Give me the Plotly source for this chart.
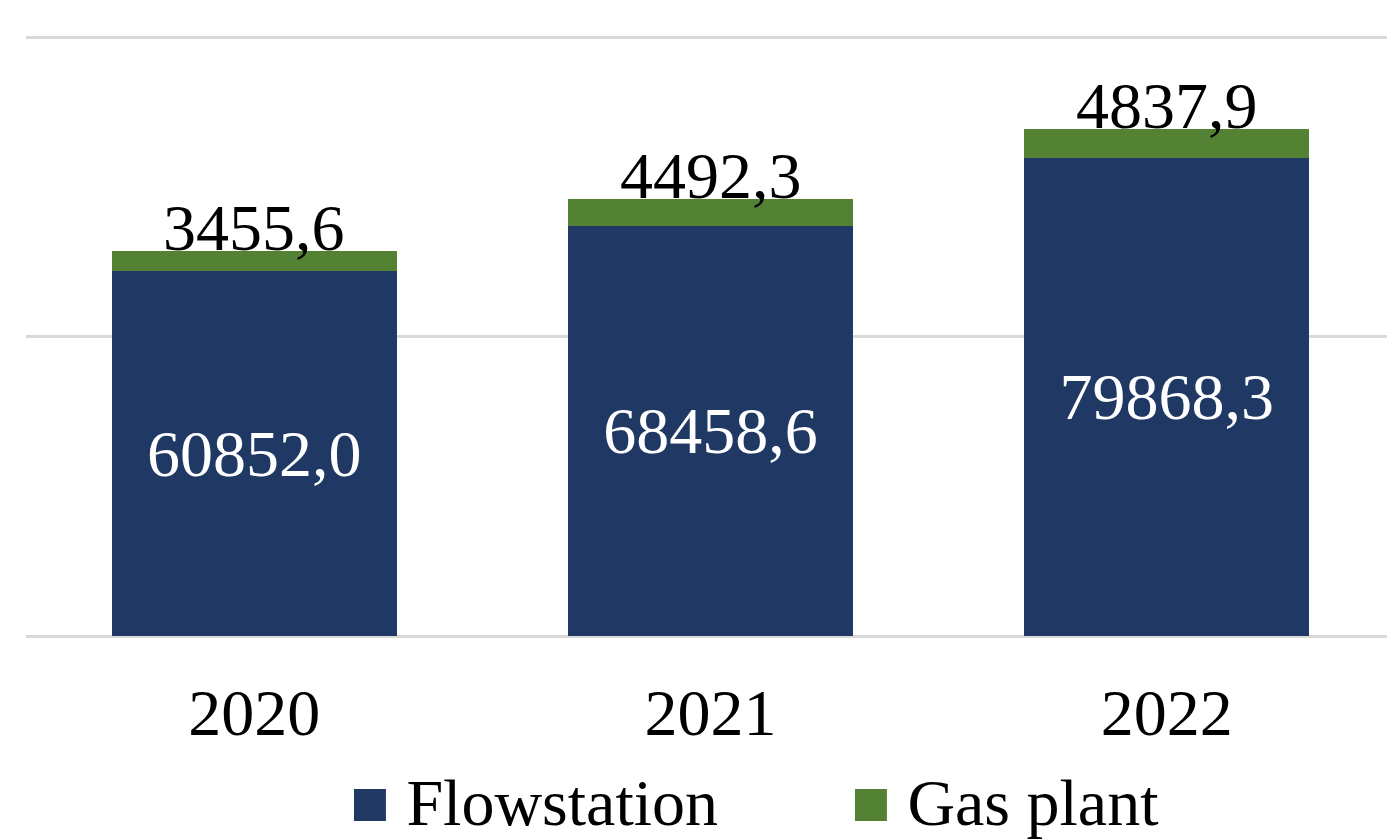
import plotly.graph_objects as go

years = ["2020", "2021", "2022"]
flowstation = [60852.0, 68458.6, 79868.3]
gas_plant = [3455.6, 4492.3, 4837.9]
series_names = ["Flowstation", "Gas plant"]
series_colors = ["#1F3864", "#548235"]

FONT = "Liberation Serif"
FS = 66
# page has an 8px body margin; figure sized to fill the window
W, H = 1387, 832
ML, MR, MT, MB = 18, 0, 26, 204

fig = go.Figure()
fig.add_trace(go.Bar(
    x=years, y=flowstation, name=series_names[0],
    marker=dict(color=series_colors[0], line=dict(width=0)),
    texttemplate="%{y:.1f}", textposition="inside", insidetextanchor="middle",
    textangle=0, textfont=dict(family=FONT, size=FS, color="white"),
    showlegend=False,
))
fig.add_trace(go.Bar(
    x=years, y=gas_plant, name=series_names[1],
    marker=dict(color=series_colors[1], line=dict(width=0)),
    showlegend=False,
))

# gas plant labels sitting on top of each stack (x = category index)
for i, (f, g) in enumerate(zip(flowstation, gas_plant)):
    fig.add_annotation(
        x=i, y=f + g, xref="x", yref="y",
        text=f"{g:.1f}".replace(".", ","), showarrow=False,
        xanchor="center", yanchor="bottom", yshift=-15,
        font=dict(family=FONT, size=FS, color="black"),
    )

# legend drawn as text entries
plot_w = W - ML - MR
plot_h = H - MT - MB
legend_px = [340, 841]  # in figure pixels
for name, color, px in zip(series_names, series_colors, legend_px):
    fig.add_annotation(
        xref="paper", yref="paper",
        x=(px - ML) / plot_w, y=(H - MB - 794) / plot_h,
        xanchor="left", yanchor="middle", showarrow=False,
        text=f"<span style='color:{color}'>\u25A0</span> {name}",
        font=dict(family=FONT, size=FS, color="black"),
    )

fig.update_layout(
    width=W, height=H,
    margin=dict(l=ML, r=MR, t=MT, b=MB, pad=0, autoexpand=False),
    barmode="stack", bargap=0.376,
    separators=",.",
    plot_bgcolor="white", paper_bgcolor="white",
    font=dict(family=FONT, color="black"),
    xaxis=dict(
        type="category", categoryorder="array", categoryarray=years,
        range=[-0.5, len(years) - 0.5], autorange=False,
        showgrid=False, showline=False, zeroline=False,
        tickfont=dict(family=FONT, size=FS, color="black"),
        ticks="", ticklabelstandoff=32, automargin=False,
    ),
    yaxis=dict(
        range=[0, 100500], autorange=False, tickvals=[0, 50000, 100000],
        showticklabels=False, showgrid=True, gridcolor="#D9D9D9", gridwidth=3,
        zeroline=True, zerolinecolor="#D9D9D9", zerolinewidth=3, showline=False,
        automargin=False,
    ),
)

fig.write_html("out.html")
